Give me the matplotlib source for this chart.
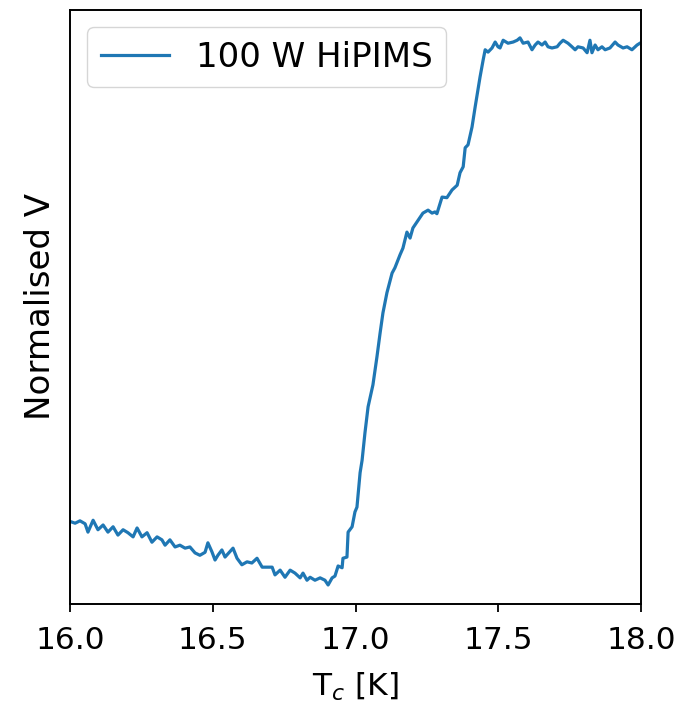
import matplotlib
matplotlib.use('Agg')
import matplotlib.pyplot as plt
import numpy as np

# temperature [K] and normalised voltage
T = [16.000, 16.018, 16.035, 16.053, 16.063, 16.081, 16.098, 16.116, 16.133, 16.151,
     16.168, 16.186, 16.203, 16.221, 16.235, 16.252, 16.270, 16.287, 16.305, 16.322,
     16.333, 16.350, 16.368, 16.385, 16.403, 16.420, 16.438, 16.455, 16.473, 16.483,
     16.497, 16.508, 16.518, 16.532, 16.543, 16.560, 16.571, 16.585, 16.602, 16.620,
     16.637, 16.655, 16.673, 16.690, 16.708, 16.718, 16.736, 16.753, 16.771, 16.788,
     16.806, 16.816, 16.830, 16.841, 16.858, 16.876, 16.893, 16.904, 16.918, 16.928,
     16.939, 16.953, 16.956, 16.970, 16.974, 16.988, 16.998, 17.005, 17.016, 17.023,
     17.033, 17.044, 17.051, 17.061, 17.075, 17.086, 17.096, 17.110, 17.128, 17.138,
     17.156, 17.166, 17.180, 17.191, 17.201, 17.219, 17.236, 17.254, 17.268, 17.278,
     17.285, 17.303, 17.320, 17.338, 17.356, 17.366, 17.377, 17.384, 17.394, 17.408,
     17.419, 17.436, 17.447, 17.454, 17.464, 17.478, 17.489, 17.499, 17.506, 17.517,
     17.534, 17.552, 17.566, 17.576, 17.587, 17.604, 17.618, 17.629, 17.639, 17.653,
     17.664, 17.674, 17.688, 17.706, 17.716, 17.727, 17.744, 17.758, 17.769, 17.779,
     17.797, 17.811, 17.821, 17.828, 17.839, 17.849, 17.863, 17.874, 17.891, 17.909,
     17.919, 17.937, 17.951, 17.968, 17.986, 17.996]
V = [0.139, 0.136, 0.140, 0.135, 0.121, 0.141, 0.125, 0.133, 0.121, 0.130,
     0.116, 0.125, 0.120, 0.113, 0.128, 0.113, 0.120, 0.104, 0.113, 0.108,
     0.099, 0.108, 0.096, 0.099, 0.094, 0.096, 0.086, 0.082, 0.087, 0.103,
     0.088, 0.074, 0.082, 0.091, 0.079, 0.088, 0.094, 0.077, 0.066, 0.071,
     0.069, 0.077, 0.062, 0.062, 0.062, 0.049, 0.057, 0.045, 0.057, 0.052,
     0.044, 0.052, 0.040, 0.045, 0.040, 0.044, 0.040, 0.032, 0.044, 0.047,
     0.064, 0.061, 0.077, 0.079, 0.121, 0.130, 0.155, 0.163, 0.221, 0.242,
     0.288, 0.332, 0.347, 0.369, 0.416, 0.456, 0.490, 0.524, 0.557, 0.566,
     0.588, 0.599, 0.626, 0.616, 0.633, 0.646, 0.658, 0.663, 0.658, 0.660,
     0.657, 0.685, 0.684, 0.697, 0.705, 0.726, 0.736, 0.768, 0.773, 0.803,
     0.837, 0.887, 0.916, 0.933, 0.929, 0.936, 0.946, 0.938, 0.936, 0.949,
     0.944, 0.946, 0.949, 0.953, 0.944, 0.946, 0.933, 0.941, 0.946, 0.941,
     0.946, 0.938, 0.936, 0.938, 0.944, 0.949, 0.944, 0.938, 0.933, 0.938,
     0.936, 0.928, 0.949, 0.928, 0.941, 0.933, 0.938, 0.933, 0.936, 0.946,
     0.941, 0.936, 0.938, 0.933, 0.941, 0.944]
label = '100 W HiPIMS'
xticks = [16.0, 16.5, 17.0, 17.5, 18.0]

fig = plt.figure(figsize=(6.82, 7.11), dpi=100)
ax = fig.add_axes([0.1026, 0.1505, 0.8374, 0.8355])

ax.plot(T, V, color='#1f77b4', lw=2.3, label=label)

ax.set_xlim(16.0, 18.0)
ax.set_ylim(0, 1)
ax.set_xticks(xticks)
ax.set_yticks([])
ax.tick_params(axis='x', labelsize=22.5, length=5.5, width=1.3, pad=10)
for s in ax.spines.values():
    s.set_linewidth(1.4)

ax.set_xlabel('T$_c$ [K]', fontsize=22.5, labelpad=12)
ax.set_ylabel('Normalised V', fontsize=24.5, labelpad=9)
ax.legend(loc='upper left', fontsize=24.5, handlelength=2.0)

fig.savefig('out.png', dpi=100)
